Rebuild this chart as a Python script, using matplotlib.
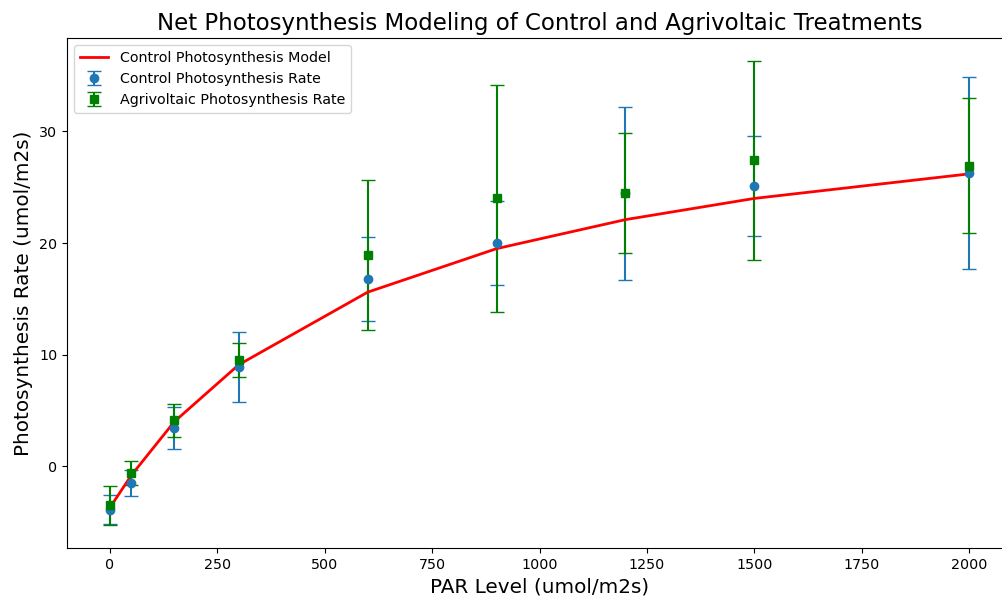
import matplotlib
matplotlib.use("Agg")
import matplotlib.pyplot as plt

# PAR levels (umol/m2s)
par_levels = [0, 50, 150, 300, 600, 900, 1200, 1500, 2000]

# measured net photosynthesis, mean and error
control_rate = [-3.9, -1.5, 3.4, 8.9, 16.8, 20.0, 24.45, 25.1, 26.3]
control_err = [1.3, 1.2, 1.9, 3.15, 3.75, 3.8, 7.75, 4.5, 8.6]
agri_rate = [-3.5, -0.6, 4.1, 9.5, 18.95, 24.0, 24.5, 27.4, 26.95]
agri_err = [1.75, 1.1, 1.5, 1.5, 6.7, 10.15, 5.4, 8.9, 6.05]

# fitted light-response model for the control plants
control_model = [-3.7, -0.8, 4.0, 9.1, 15.6, 19.5, 22.1, 24.0, 26.2]

plt.rcParams["font.size"] = 10.3

fig = plt.figure(figsize=(10.03, 6.0), dpi=100)
ax = fig.add_axes([67 / 1003, 52 / 600, 945 / 1003, 510 / 600])

ax.errorbar(par_levels, control_rate, yerr=control_err, fmt="o", color="#1f77b4",
            capsize=5, label="Control Photosynthesis Rate")
ax.errorbar(par_levels, agri_rate, yerr=agri_err, fmt="s", color="green",
            capsize=5, label="Agrivoltaic Photosynthesis Rate")
ax.plot(par_levels, control_model, color="red", linewidth=2,
        label="Control Photosynthesis Model")

ax.set_title("Net Photosynthesis Modeling of Control and Agrivoltaic Treatments",
             fontsize=16.5)
ax.set_xlabel("PAR Level (umol/m2s)", fontsize=14.4)
ax.set_ylabel("Photosynthesis Rate (umol/m2s)", fontsize=14.4)
ax.legend(loc="upper left")

fig.savefig("out.png", dpi=100)
